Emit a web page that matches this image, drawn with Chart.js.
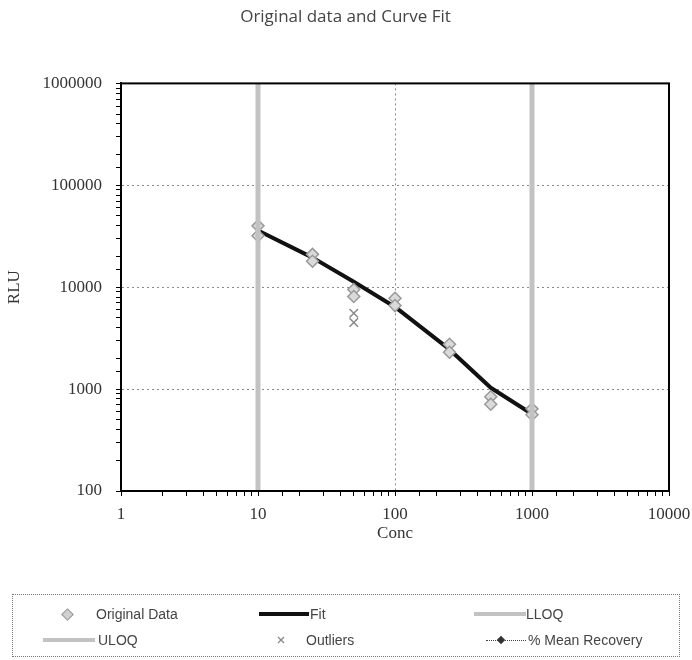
<!DOCTYPE html>
<html lang="en">
<head>
  <meta charset="UTF-8" />
  <title>Original data and Curve Fit</title>
  <script src="https://cdn.jsdelivr.net/npm/chart.js"></script>
  <style>
    body {
      margin: 0;
      background: #fff;
    }
    #wrap {
      position: relative;
      width: 692px;
      height: 660px;
    }
    #legend {
      position: absolute;
      left: 12px;
      top: 594px;
      width: 668px;
      height: 63px;
      border: 1px dotted #777;
      box-sizing: border-box;
      font-family: "Liberation Sans", Arial, sans-serif;
      font-size: 14px;
      color: #444;
    }
    .item {
      position: absolute;
      white-space: nowrap;
      line-height: 16px;
    }
    .swatch {
      position: absolute;
    }
  </style>
</head>
<body>
  <div id="wrap">
    <canvas id="fitChart" width="692" height="660"></canvas>
    <div id="legend"></div>
  </div>

  <script>
    // concentrations and replicate readings
    const conc = [10, 25, 50, 100, 250, 500, 1000];
    const rluRep1 = [40000, 21000, 9500, 7800, 2750, 840, 640];
    const rluRep2 = [32000, 18000, 8100, 6600, 2300, 710, 560];

    // outliers (both at conc 50)
    const outlierConc = [50, 50];
    const outlierRlu = [5550, 4500];

    // fitted curve
    const fitConc = [10, 25, 50, 100, 250, 500, 1000];
    const fitRlu = [36000, 19500, 11300, 6400, 2450, 1030, 570];

    // limits of quantitation
    const lloq = 10;
    const uloq = 1000;

    const xTicks = [1, 10, 100, 1000, 10000];
    const yTicks = [100, 1000, 10000, 100000, 1000000];

    const isMajor = v => Math.abs(Math.log10(v) - Math.round(Math.log10(v))) < 1e-9;

    const original = [];
    conc.forEach((c, i) => {
      original.push({ x: c, y: rluRep1[i] });
      original.push({ x: c, y: rluRep2[i] });
    });

    const frame = {
      id: 'frame',
      afterDraw(chart) {
        const a = chart.chartArea;
        const ctx = chart.ctx;
        ctx.save();
        ctx.strokeStyle = '#000';
        ctx.lineWidth = 2;
        ctx.strokeRect(a.left, a.top, a.right - a.left, a.bottom - a.top);
        ctx.restore();
      }
    };

    const axisFont = { family: '"Liberation Serif", "Times New Roman", serif', size: 17 };

    new Chart(document.getElementById('fitChart'), {
      type: 'scatter',
      data: {
        datasets: [
          {
            label: 'LLOQ',
            data: [{ x: lloq, y: yTicks[0] }, { x: lloq, y: yTicks[yTicks.length - 1] }],
            showLine: true,
            borderColor: '#c2c2c2',
            borderWidth: 5,
            pointRadius: 0
          },
          {
            label: 'ULOQ',
            data: [{ x: uloq, y: yTicks[0] }, { x: uloq, y: yTicks[yTicks.length - 1] }],
            showLine: true,
            borderColor: '#c2c2c2',
            borderWidth: 5,
            pointRadius: 0
          },
          {
            label: 'Original Data',
            data: original,
            pointStyle: 'rectRot',
            pointRadius: 6,
            backgroundColor: '#dadada',
            borderColor: '#9a9a9a',
            borderWidth: 1.5
          },
          {
            label: 'Outliers',
            data: outlierConc.map((c, i) => ({ x: c, y: outlierRlu[i] })),
            pointStyle: 'crossRot',
            pointRadius: 6,
            borderColor: '#8a8a8a',
            borderWidth: 1.5
          },
          {
            label: 'Fit',
            data: fitConc.map((c, i) => ({ x: c, y: fitRlu[i] })),
            showLine: true,
            borderColor: '#111',
            borderWidth: 4,
            pointRadius: 0,
            borderJoinStyle: 'round'
          }
        ]
      },
      options: {
        responsive: false,
        animation: false,
        layout: { padding: { left: 0, right: 1, top: 0, bottom: 94 } },
        plugins: {
          legend: { display: false },
          tooltip: { enabled: false },
          title: {
            display: true,
            text: 'Original data and Curve Fit',
            color: '#444',
            font: { family: '"Open Sans", "Liberation Sans", sans-serif', size: 17, weight: 'normal' },
            padding: { top: 7, bottom: 56 }
          }
        },
        scales: {
          x: {
            type: 'logarithmic',
            min: xTicks[0],
            max: xTicks[xTicks.length - 1],
            afterFit(scale) {
              scale.height = 75;
              scale.paddingRight = 23;
            },
            title: {
              display: true,
              text: 'Conc',
              color: '#333',
              font: axisFont,
              padding: { top: 0, bottom: 22 }
            },
            ticks: {
              autoSkip: false,
              maxRotation: 0,
              padding: 8,
              color: '#333',
              font: axisFont,
              callback: v => (isMajor(v) ? String(Math.round(v)) : '')
            },
            grid: {
              color: c => (c.tick && isMajor(c.tick.value) ? '#8a8a8a' : 'rgba(0,0,0,0)'),
              tickColor: '#000',
              tickLength: 5
            },
            border: { display: true, color: '#000', width: 2, dash: [2, 3] }
          },
          y: {
            type: 'logarithmic',
            min: yTicks[0],
            max: yTicks[yTicks.length - 1],
            afterFit(scale) { scale.width = 121; },
            title: {
              display: true,
              text: 'RLU',
              color: '#333',
              font: axisFont,
              padding: { top: 4, bottom: 0 }
            },
            ticks: {
              autoSkip: false,
              padding: 14,
              color: '#333',
              font: axisFont,
              callback: v => (isMajor(v) ? String(Math.round(v)) : '')
            },
            grid: {
              color: c => (c.tick && isMajor(c.tick.value) ? '#8a8a8a' : 'rgba(0,0,0,0)'),
              tickColor: '#000',
              tickLength: 5
            },
            border: { display: true, color: '#000', width: 2, dash: [2, 3] }
          }
        }
      },
      plugins: [frame]
    });

    // Legend laid out in two rows of three, like the original
    const legendItems = [
      { text: 'Original Data', kind: 'diamond', sx: 50, tx: 83, row: 0 },
      { text: 'Fit', kind: 'fit', sx: 246, tx: 297, row: 0 },
      { text: 'LLOQ', kind: 'loq', sx: 461, tx: 513, row: 0 },
      { text: 'ULOQ', kind: 'loq', sx: 30, tx: 85, row: 1 },
      { text: 'Outliers', kind: 'cross', sx: 268, tx: 293, row: 1 },
      { text: '% Mean Recovery', kind: 'recovery', sx: 473, tx: 515, row: 1 }
    ];

    const legend = document.getElementById('legend');
    legendItems.forEach(it => {
      const cy = it.row === 0 ? 19 : 45;
      let sw = '';
      if (it.kind === 'diamond') {
        sw = `<div class="swatch" style="left:${it.sx}px;top:${cy - 4}px;width:7px;height:7px;background:#d0d0d0;border:1px solid #999;transform:rotate(45deg)"></div>`;
      } else if (it.kind === 'fit') {
        sw = `<div class="swatch" style="left:${it.sx}px;top:${cy - 2}px;width:50px;height:4px;background:#111"></div>`;
      } else if (it.kind === 'loq') {
        sw = `<div class="swatch" style="left:${it.sx}px;top:${cy - 2}px;width:52px;height:4px;background:#c2c2c2"></div>`;
      } else if (it.kind === 'cross') {
        sw = `<svg class="swatch" style="left:${it.sx - 4}px;top:${cy - 4}px" width="8" height="8"><path d="M1 1L7 7M7 1L1 7" stroke="#888" stroke-width="1.3"/></svg>`;
      } else if (it.kind === 'recovery') {
        sw = `<div class="swatch" style="left:${it.sx}px;top:${cy}px;width:40px;border-top:1px dotted #444"></div>` +
             `<div class="swatch" style="left:${it.sx + 12}px;top:${cy - 3}px;width:6px;height:6px;background:#333;transform:rotate(45deg)"></div>`;
      }
      legend.insertAdjacentHTML('beforeend', sw +
        `<div class="item" style="left:${it.tx}px;top:${cy - 8}px">${it.text}</div>`);
    });
  </script>
</body>
</html>
